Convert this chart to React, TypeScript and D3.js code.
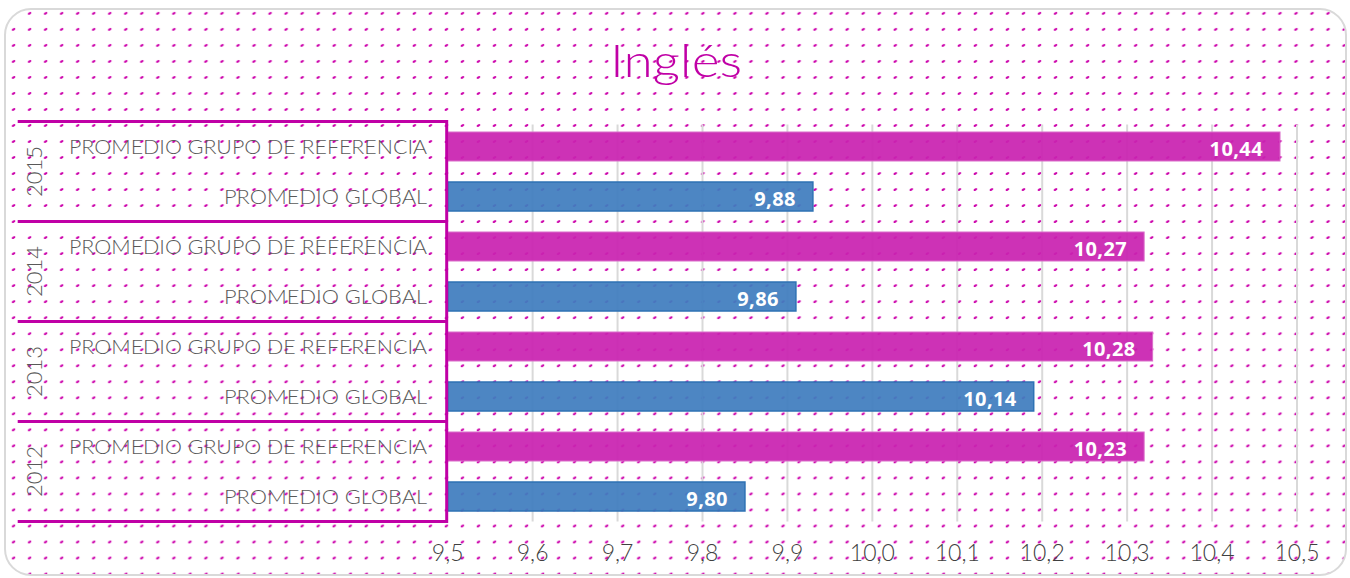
import React from "react";
import * as d3 from "d3";

// ---- data (top to bottom) ----
const years = ["2015", "2014", "2013", "2012"];
const seriesNames = ["PROMEDIO GRUPO DE REFERENCIA", "PROMEDIO GLOBAL"];
// bar lengths as drawn in the picture
const refValues = [10.48, 10.32, 10.33, 10.32];
const globalValues = [9.93, 9.91, 10.19, 9.85];
// data labels as printed
const refLabels = ["10,44", "10,27", "10,28", "10,23"];
const globalLabels = ["9,88", "9,86", "10,14", "9,80"];
const axisDomain = [9.5, 10.5];
const title = "Inglés";

const W = 1350;
const H = 578;
const MAGENTA = "#C000A6";
const REF_FILL = "#C922B0";
const GLOBAL_FILL = "#3F7DBE";

type Row = { key: string; year: number; series: number; value: number; label: string };

const rows: Row[] = [];
years.forEach((y, i) => {
  rows.push({ key: `${y}-0`, year: i, series: 0, value: refValues[i], label: refLabels[i] });
  rows.push({ key: `${y}-1`, year: i, series: 1, value: globalValues[i], label: globalLabels[i] });
});

const locale = d3.formatLocale({ decimal: ",", thousands: ".", grouping: [3], currency: ["", "€"] });
const fmt = locale.format(".1f");
const LIGHT = "Lato, 'Open Sans', sans-serif";

export default function App() {
  const plotLeft = 447.7;
  const plotRight = 1297;
  const plotTop = 121.5;
  const plotBottom = 521.5;
  const x = d3.scaleLinear().domain(axisDomain).range([plotLeft, plotRight]);
  const y = d3
    .scaleBand<string>()
    .domain(rows.map((r) => r.key))
    .range([plotTop, plotBottom])
    .paddingInner(0.42)
    .paddingOuter(0.21);
  const step = y.step();
  const ticks = x.ticks(10);
  const groupH = step * 2;

  return (
    <svg
      width={W}
      height={H}
      style={{ position: "absolute", left: 0, top: 0, display: "block" }}
      xmlns="http://www.w3.org/2000/svg"
    >
      <defs>
        <pattern id="dots" patternUnits="userSpaceOnUse" x={5.6} y={5.3} width={16.03} height={16.02}>
          <ellipse cx={8} cy={8} rx={2} ry={1.15} fill="#CC00AA" transform="rotate(-30 8 8)" />
        </pattern>
        <clipPath id="frame">
          <rect x={5} y={9} width={1341} height={566} rx={26} />
        </clipPath>
      </defs>
      <rect x={0} y={0} width={W} height={H} fill="#ffffff" />
      <g clipPath="url(#frame)">
        <rect x={0} y={0} width={W} height={H} fill="url(#dots)" />
      </g>
      <rect x={5} y={9} width={1341} height={566} rx={26} fill="none" stroke="#D9D9D9" strokeWidth={2} />

      {/* title */}
      <text
        x={676}
        y={77}
        textAnchor="middle"
        fontFamily={LIGHT}
        fontWeight={300}
        fontSize={46}
        fill={MAGENTA}
        textLength={132}
        lengthAdjust="spacingAndGlyphs"
      >
        {title}
      </text>

      {/* gridlines */}
      {ticks.slice(1).map((t) => (
        <line key={`g${t}`} x1={x(t)} x2={x(t)} y1={plotTop + 3} y2={plotBottom} stroke="#D9D9D9" strokeWidth={2} />
      ))}

      {/* bars */}
      {rows.map((r) => {
        const by = y(r.key)!;
        const bw = y.bandwidth();
        const x0 = x(axisDomain[0]);
        const x1 = x(r.value);
        return (
          <g key={r.key}>
            <rect
              x={x0}
              y={by}
              width={x1 - x0}
              height={bw}
              fill={r.series === 0 ? REF_FILL : GLOBAL_FILL}
              fillOpacity={0.93}
              stroke={r.series === 0 ? "#DA6CC9" : "#2E72B4"}
              strokeWidth={r.series === 0 ? 1 : 1.5}
            />
            <text
              x={x1 - 17}
              y={by + bw / 2 + 9.5}
              textAnchor="end"
              fontFamily="'Open Sans', 'Liberation Sans', sans-serif"
              fontWeight={700}
              fontSize={20}
              letterSpacing={0.4}
              fill="#ffffff"
            >
              {r.label}
            </text>
          </g>
        );
      })}

      {/* category labels */}
      {rows.map((r) => {
        const cy = y(r.key)! + y.bandwidth() / 2;
        const name = seriesNames[r.series];
        return (
          <text
            key={`c${r.key}`}
            x={427}
            y={cy + 7.5}
            textAnchor="end"
            fontFamily={LIGHT}
            fontWeight={300}
            fontSize={20}
            fill="#595959"
            textLength={r.series === 0 ? 358 : 203}
            lengthAdjust="spacingAndGlyphs"
          >
            {name}
          </text>
        );
      })}

      {/* year group labels */}
      {years.map((yr, i) => {
        const top = plotTop + i * groupH;
        const cy = top + groupH / 2;
        return (
          <text
            key={`y${yr}`}
            transform={`translate(42,${cy}) rotate(-90)`}
            textAnchor="middle"
            fontFamily={LIGHT}
            fontWeight={300}
            fontSize={22}
            fill="#595959"
          >
            {yr}
          </text>
        );
      })}
      {d3.range(years.length + 1).map((i) => {
        const yy = plotTop + i * groupH;
        return <line key={`h${i}`} x1={17.7} x2={448} y1={yy} y2={yy} stroke={MAGENTA} strokeWidth={3} />;
      })}
      <line x1={446.7} x2={446.7} y1={plotTop - 1.5} y2={plotBottom + 1.5} stroke={MAGENTA} strokeWidth={3} />

      {/* x tick labels */}
      {ticks.map((t) => (
        <text
          key={`t${t}`}
          x={x(t)}
          y={561}
          textAnchor="middle"
          fontFamily={LIGHT}
          fontWeight={300}
          fontSize={23}
          fill="#404040"
        >
          {fmt(t)}
        </text>
      ))}
    </svg>
  );
}
